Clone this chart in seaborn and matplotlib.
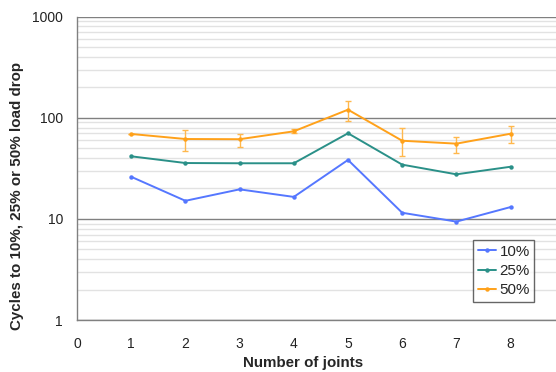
import numpy as np
import pandas as pd
import seaborn as sns
import matplotlib
matplotlib.use("Agg")
import matplotlib.pyplot as plt
from matplotlib.ticker import LogLocator, FixedLocator, NullFormatter

joints = [1, 2, 3, 4, 5, 6, 7, 8]
drop_10 = [26.1, 15.1, 19.6, 16.5, 38.3, 11.5, 9.4, 13.1]
drop_25 = [41.6, 35.7, 35.5, 35.5, 70.3, 34.4, 27.6, 32.8]
drop_50 = [69.2, 61.7, 61.4, 73.5, 120.3, 59.3, 55.5, 69.6]
# spread of the 50% series (low / high end of each bar)
drop_50_low = [69.2, 47.3, 51.8, 71.5, 92.3, 41.6, 45.2, 56.0]
drop_50_high = [69.2, 75.7, 69.6, 76.8, 147.6, 79.3, 64.6, 82.4]

series_names = ["10%", "25%", "50%"]
colors = ["#5577ff", "#2a9088", "#ffa11a"]

df = pd.DataFrame({
    "joints": joints * 3,
    "cycles": drop_10 + drop_25 + drop_50,
    "series": np.repeat(series_names, len(joints)),
})

sns.set_style("white")
plt.rcParams["font.family"] = ["Liberation Sans", "DejaVu Sans"]

W, H = 556, 372
AX_L, AX_B, AX_T = 77, 320, 16.7
AX_W, AX_H = W - AX_L, AX_B - AX_T
fig = plt.figure(figsize=(W / 100, H / 100), dpi=100)
ax = fig.add_axes([AX_L / W, 1 - AX_B / H, AX_W / W, AX_H / H])

ax.set_yscale("log")
ax.set_ylim(1, 1000)
ax.set_xlim(0, AX_W / 54.2)

# grid: light minor lines, dark decade lines
ax.yaxis.set_major_locator(FixedLocator([1, 10, 100, 1000]))
ax.yaxis.set_minor_locator(LogLocator(base=10, subs=np.arange(2, 10)))
ax.yaxis.set_minor_formatter(NullFormatter())
ax.set_yticklabels(["1", "10", "100", "1000"])
ax.grid(which="minor", axis="y", color="#e2e2e2", linewidth=1.0)
ax.grid(which="major", axis="y", color="#808080", linewidth=1.0)
ax.set_axisbelow(True)

# error bars for the 50% series
yerr = np.array([
    np.array(drop_50) - np.array(drop_50_low),
    np.array(drop_50_high) - np.array(drop_50),
])
ax.errorbar(joints, drop_50, yerr=yerr, fmt="none", ecolor="#ffb84d",
            elinewidth=1.0, capsize=2.5, capthick=1.0, zorder=2)

sns.lineplot(data=df, x="joints", y="cycles", hue="series",
             palette=colors, marker="o", markersize=3.2, markeredgewidth=0,
             linewidth=1.4, ax=ax, legend=True, zorder=3)

ax.set_xticks(range(0, 9))
ax.tick_params(axis="x", which="major", direction="out", length=4, width=1,
               color="#808080", labelsize=10, pad=8, labelcolor="#222222")
ax.tick_params(axis="y", which="major", direction="out", length=4, width=1,
               color="#808080", labelsize=10, pad=6, labelcolor="#222222")
ax.tick_params(axis="y", which="minor", length=0)

for side in ["top", "right"]:
    ax.spines[side].set_visible(False)
for side in ["left", "bottom"]:
    ax.spines[side].set_color("#808080")
    ax.spines[side].set_linewidth(1.0)

ax.set_xlabel("Number of joints", fontsize=10.9, fontweight="bold",
              va="top")
ax.xaxis.set_label_coords((303 - AX_L) / AX_W, -(356 - AX_B) / AX_H)
ax.set_ylabel("Cycles to 10%, 25% or 50% load drop", fontsize=10.9,
              fontweight="bold", va="bottom")
ax.yaxis.set_label_coords(-(AX_L - 24) / AX_W, (AX_B - 195.5) / AX_H)

leg = ax.legend(loc="upper left",
                bbox_to_anchor=((473 - AX_L) / AX_W, 1 - (240 - AX_T) / AX_H),
                frameon=True, fancybox=False, fontsize=10.9, handlelength=1.25,
                handletextpad=0.2, borderpad=0.3, labelspacing=0.35,
                borderaxespad=0)
leg.get_frame().set_edgecolor("#404040")
leg.get_frame().set_linewidth(1.0)

fig.savefig("out.png", dpi=100)
